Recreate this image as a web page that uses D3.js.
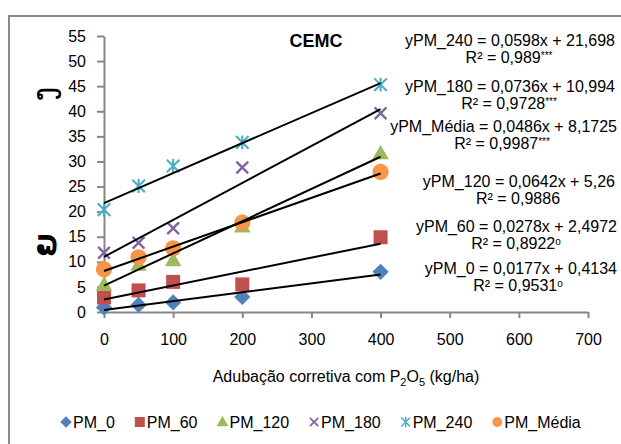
<!DOCTYPE html>
<html>
<head>
<meta charset="utf-8">
<script src="https://cdn.jsdelivr.net/npm/d3@7/dist/d3.min.js"></script>
<style>
  body { margin: 0; background: #fff; }
  text { font-family: "Liberation Sans", Arial, sans-serif; fill: #000; }
</style>
</head>
<body>
<svg width="621" height="444"></svg>
<script>
// doses of P2O5 (kg/ha)
var doses = [0, 50, 100, 200, 400];

var seriesNames = ["PM_0", "PM_60", "PM_120", "PM_180", "PM_240", "PM_Média"];
var pm0 = [0.9, 1.4, 1.9, 3.0, 8.0];
var pm60 = [2.9, 4.3, 6.0, 5.5, 14.9];
var pm120 = [5.4, 9.4, 10.3, 17.0, 31.6];
var pm180 = [11.8, 13.8, 16.7, 28.8, 39.6];
var pm240 = [20.4, 25.1, 29.1, 33.8, 45.3];
var pmMedia = [8.5, 10.9, 12.7, 17.8, 27.9];

// trendline coefficients (slope, intercept)
var slopes = [0.0177, 0.0278, 0.0642, 0.0736, 0.0598, 0.0486];
var intercepts = [0.4134, 2.4972, 5.26, 10.994, 21.698, 8.1725];

var eqLines = ["yPM_240 = 0,0598x + 21,698", "yPM_180 = 0,0736x + 10,994", "yPM_Média = 0,0486x + 8,1725",
               "yPM_120 = 0,0642x + 5,26", "yPM_60 = 0,0278x + 2,4972", "yPM_0 = 0,0177x + 0,4134"];
var r2Values = ["0,989", "0,9728", "0,9987", "0,9886", "0,8922", "0,9531"];
var r2Marks = ["***", "***", "***", "", "o", "o"];

var xTicks = [0, 100, 200, 300, 400, 500, 600, 700];
var yTicks = [0, 5, 10, 15, 20, 25, 30, 35, 40, 45, 50, 55];

var colors = ["#4F81BD", "#C0504D", "#9BBB59", "#8064A2", "#4BACC6", "#F79646"];
var allSeries = [pm0, pm60, pm120, pm180, pm240, pmMedia];

var svg = d3.select("svg");

// outer chart frame
svg.append("rect")
  .attr("x", 9).attr("y", 16)
  .attr("width", 700).attr("height", 500)
  .attr("fill", "none").attr("stroke", "#8a8a8a").attr("stroke-width", 2);

var x = d3.scaleLinear().domain([0, 700]).range([104, 588]);
var y = d3.scaleLinear().domain([0, 55]).range([312, 36]);

var xAxis = svg.append("g")
  .attr("transform", "translate(0," + y(0) + ")")
  .call(d3.axisBottom(x).tickValues(xTicks).tickSize(6).tickSizeOuter(0).tickPadding(16));
var yAxis = svg.append("g")
  .attr("transform", "translate(" + x(0) + ",0)")
  .call(d3.axisLeft(y).tickValues(yTicks).tickSize(7).tickSizeOuter(0).tickPadding(11));

[xAxis, yAxis].forEach(function(g) {
  g.selectAll("path, line").attr("stroke", "#868686").attr("stroke-width", 2);
  g.selectAll("text").style("font-size", "16px").style("font-family", "Liberation Sans, Arial, sans-serif");
});

// axis title
var xt = svg.append("text")
  .attr("x", 346).attr("y", 382)
  .attr("text-anchor", "middle")
  .style("font-size", "16px");
xt.append("tspan").text("Adubação corretiva com P");
xt.append("tspan").text("2").style("font-size", "11px").attr("dy", 4);
xt.append("tspan").text("O").attr("dy", -4);
xt.append("tspan").text("5").style("font-size", "11px").attr("dy", 4);
xt.append("tspan").text(" (kg/ha)").attr("dy", -4);

// garbled y axis label glyphs
svg.append("text")
  .attr("transform", "translate(54,94) rotate(-90)")
  .attr("text-anchor", "middle")
  .style("font-family", "DejaVu Sans").style("font-size", "30px")
  .text("ງ");
svg.append("text")
  .attr("transform", "translate(56,245) rotate(-90)")
  .attr("text-anchor", "middle")
  .style("font-family", "DejaVu Sans").style("font-size", "30px").style("font-weight", "bold")
  .text("ຍ");

// chart title
svg.append("text")
  .attr("x", 316).attr("y", 47)
  .attr("text-anchor", "middle")
  .style("font-size", "18px").style("font-weight", "bold")
  .text("CEMC");

// marker drawing
function marker(g, i, s) {
  var c = colors[i];
  if (i == 0) {
    var d = s * 0.58;
    g.append("path").attr("d", "M0," + -d + "L" + d + ",0L0," + d + "L" + -d + ",0Z").attr("fill", c);
  }
  else if (i == 1) g.append("rect").attr("x", -s / 2).attr("y", -s / 2).attr("width", s).attr("height", s).attr("fill", c);
  else if (i == 2) g.append("path").attr("d", d3.symbol(d3.symbolTriangle, s * s * 0.6)()).attr("transform", "translate(0," + s * 0.08 + ")").attr("fill", c);
  else if (i == 3) {
    var h = s * 0.42;
    g.append("path").attr("d", "M" + -h + "," + -h + "L" + h + "," + h + "M" + -h + "," + h + "L" + h + "," + -h)
      .attr("stroke", c).attr("stroke-width", s * 0.17);
  } else if (i == 4) {
    var h2 = s * 0.45;
    g.append("path").attr("d", "M" + -h2 + "," + -h2 + "L" + h2 + "," + h2 + "M" + -h2 + "," + h2 + "L" + h2 + "," + -h2 + "M0," + -h2 * 1.1 + "L0," + h2 * 1.1)
      .attr("stroke", c).attr("stroke-width", s * 0.15);
  } else g.append("circle").attr("r", s * 0.58).attr("fill", c);
}

allSeries.forEach(function(vals, i) {
  svg.append("g").selectAll("g")
    .data(vals)
    .enter()
    .append("g")
      .attr("transform", function(d, j) { return "translate(" + x(doses[j]) + "," + y(d) + ")"; })
      .each(function() { marker(d3.select(this), i, 14); });
});

// trend lines
svg.append("g").selectAll("line")
  .data(slopes)
  .enter()
  .append("line")
    .attr("x1", x(0)).attr("x2", x(400))
    .attr("y1", function(d, i) { return y(intercepts[i]); })
    .attr("y2", function(d, i) { return y(intercepts[i] + d * 400); })
    .attr("stroke", "#000").attr("stroke-width", 2);

// equation labels
var eqRight = [615, 615, 617, 615, 617, 617];
var eqY = [46, 92, 132, 187, 232, 274];
var r2Center = [509, 509, 502, 518, 516, 518];
eqLines.forEach(function(t, i) {
  svg.append("text").attr("x", eqRight[i]).attr("y", eqY[i])
    .attr("text-anchor", "end").style("font-size", "16px").text(t);
  var r = svg.append("text").attr("x", r2Center[i]).attr("y", eqY[i] + 17)
    .attr("text-anchor", "middle").style("font-size", "16px");
  r.append("tspan").text("R² = " + r2Values[i]);
  if (r2Marks[i]) r.append("tspan").text(r2Marks[i]).style("font-size", "10px").attr("dy", -4);
});

// legend
var legend = svg.append("g");
var lx = 66;
seriesNames.forEach(function(n, i) {
  var g = legend.append("g").attr("transform", "translate(" + lx + ",422)");
  marker(g, i, i == 5 ? 8.5 : 10);
  var t = g.append("text").attr("x", 7).attr("y", 6).style("font-size", "16px").text(n);
  lx += 7 + t.node().getComputedTextLength() + 25;
});
</script>
</body>
</html>
